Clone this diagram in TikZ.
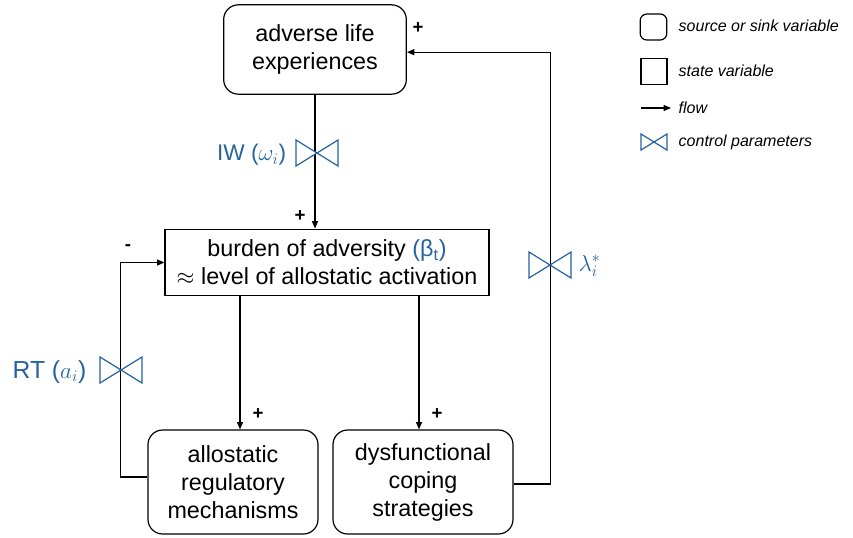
\documentclass[tikz,border=0pt]{standalone}
\usepackage{fontspec}
\setmainfont{Liberation Sans}
\usetikzlibrary{arrows.meta,positioning}

\definecolor{ctrlblue}{RGB}{38,98,160}

\tikzset{
    flow/.style={line width=0.9pt,-{Triangle[length=5.5pt,width=4.5pt]}},
    sourcebox/.style={draw,line width=0.9pt,rounded corners=11pt,align=center,
        font=\fontsize{17.5}{21}\selectfont},
    statebox/.style={draw,line width=0.9pt,align=center,
        font=\fontsize{17.5}{21}\selectfont},
    ctrllabel/.style={text=ctrlblue,anchor=east,font=\fontsize{17}{20}\selectfont},
    sign/.style={font=\fontsize{14}{16}\selectfont\bfseries},
    legendtext/.style={anchor=west,font=\fontsize{12}{14}\selectfont\itshape},
    valve/.pic={
        \draw[ctrlblue,line width=0.9pt,fill=white]
            (-#1*21,-#1*13) -- (#1*21,#1*13) -- (#1*21,-#1*13) -- (-#1*21,#1*13) -- cycle;
    }
}

\begin{document}
\begin{tikzpicture}[x=0.75pt,y=-0.75pt]
    \useasboundingbox (0,0) rectangle (853,537);

    % stocks
    \node[sourcebox,minimum width=137pt,minimum height=67pt] (adverse) at (315,49.5)
        {adverse life\\experiences};
    \node[statebox,minimum width=243pt,minimum height=50pt] (burden) at (327,262.5)
        {burden of adversity \textcolor{ctrlblue}{(β\textsubscript{t})}\\$\approx$ level of allostatic activation};
    \node[sourcebox,minimum width=127.5pt,minimum height=78pt] (regul) at (233,482)
        {allostatic\\regulatory\\mechanisms};
    \node[sourcebox,minimum width=135pt,minimum height=78pt] (coping) at (423,482)
        {dysfunctional\\coping\\strategies};

    % flows
    \draw[flow] (adverse.south) -- (adverse.south |- burden.north);
    \draw[flow] ([xshift=5.25pt]regul.north |- burden.south) -- ([xshift=5.25pt]regul.north);
    \draw[flow] ([xshift=-3pt]coping.north |- burden.south) -- ([xshift=-3pt]coping.north);
    \draw[flow] ([yshift=3.75pt]regul.west) -- ++(-27,0) |- (burden.west);
    \draw[flow] ([yshift=-1.5pt]coping.east) -- ++(37,0) |- ([yshift=-2pt]adverse.east);

    % control parameters
    \pic at (317,153) {valve=1};
    \node[ctrllabel] (iw) at (291,155) {IW ($\omega_i$)};
    \pic at (121,370) {valve=1};
    \node[ctrllabel,font=\fontsize{18.5}{22}\selectfont] (rt) at (91,372) {RT ($a_i$)};
    \pic at (550,265) {valve=1};
    \node[ctrllabel,anchor=west] (lambda) at (574,266) {$\lambda_i^*$};

    % signs
    \node[sign] (s1) at (418,28) {+};
    \node[sign] (s2) at (300,216) {+};
    \node[sign] (s3) at (128,248) {-};
    \node[sign] (s4) at (258,414) {+};
    \node[sign] (s5) at (437,414) {+};

    % legend
    \node[draw,line width=0.9pt,rounded corners=5pt,minimum width=20pt,minimum height=19.5pt] (lsrc) at (653.5,27) {};
    \node[legendtext] (tsrc) at (674,26) {source or sink variable};
    \node[draw,line width=0.9pt,minimum width=19.5pt,minimum height=19pt] (lstate) at (654,71.5) {};
    \node[legendtext] (tstate) at (674,71) {state variable};
    \coordinate (lflowa) at (641,108);
    \coordinate (lflowb) at (671,108);
    \draw[flow,line width=0.8pt] (lflowa) -- (lflowb);
    \node[legendtext] (tflow) at (674,108) {flow};
    \pic at (654,142) {valve=0.62};
    \node[legendtext] (tvalve) at (674,142) {control parameters};
\end{tikzpicture}
\end{document}
